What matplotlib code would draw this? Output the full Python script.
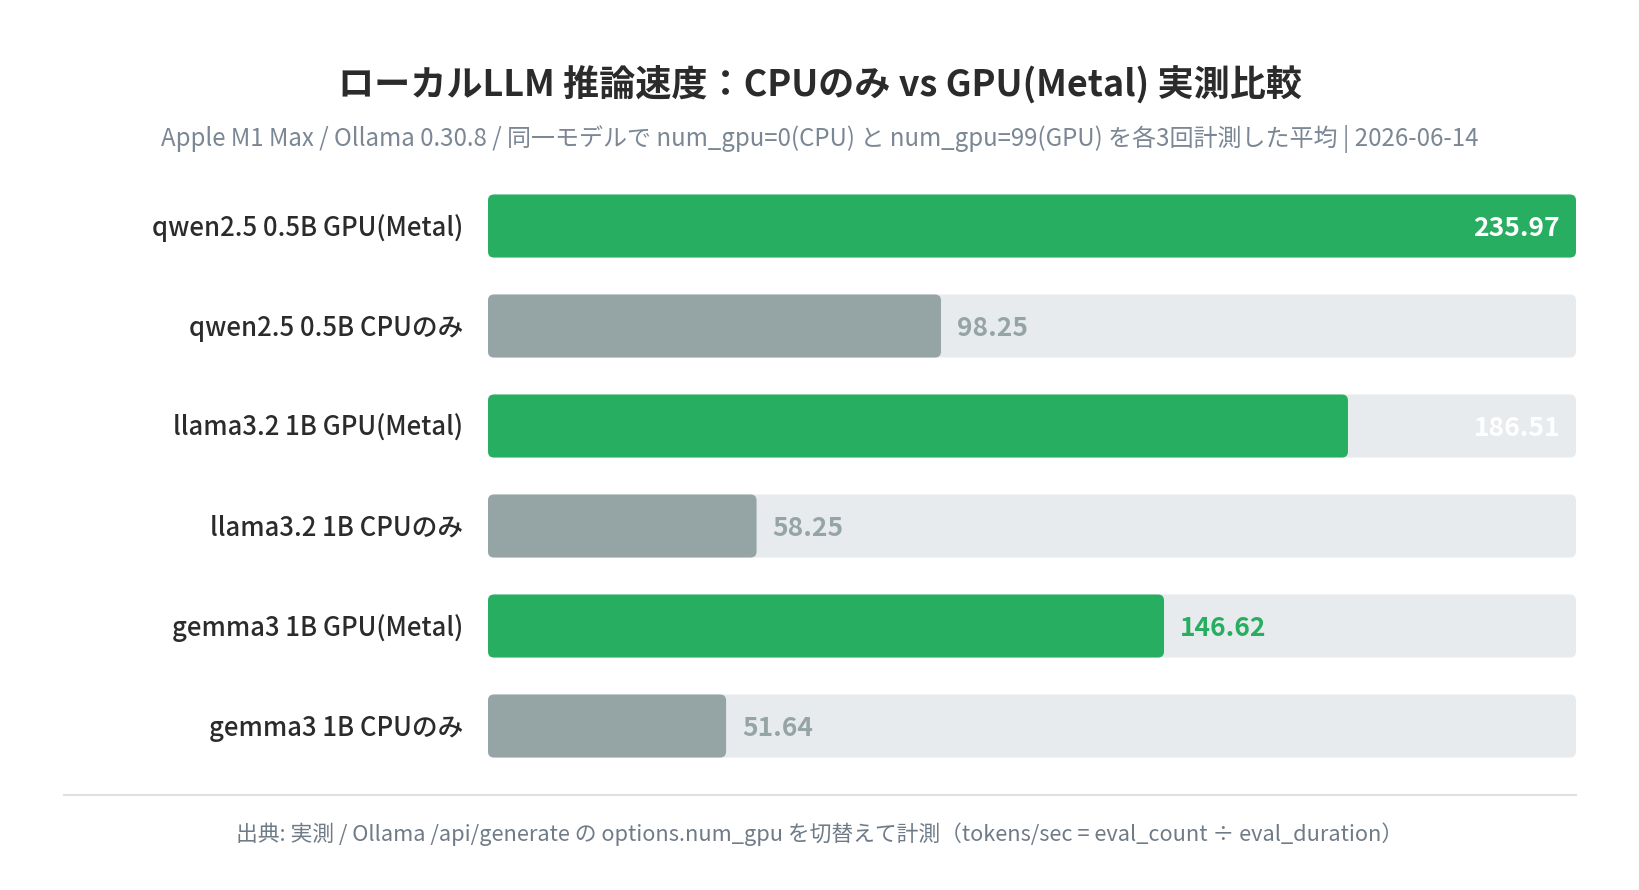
import matplotlib
matplotlib.use("Agg")
import matplotlib.pyplot as plt
from matplotlib.patches import FancyBboxPatch

plt.rcParams['font.family'] = ['Noto Sans CJK JP', 'DejaVu Sans']

categories = ["qwen2.5 0.5B GPU(Metal)", "qwen2.5 0.5B CPUのみ",
              "llama3.2 1B GPU(Metal)", "llama3.2 1B CPUのみ",
              "gemma3 1B GPU(Metal)", "gemma3 1B CPUのみ"]
values = [235.97, 98.25, 186.51, 58.25, 146.62, 51.64]
is_gpu = [True, False, True, False, True, False]

title = "ローカルLLM 推論速度：CPUのみ vs GPU(Metal) 実測比較"
subtitle = "Apple M1 Max / Ollama 0.30.8 / 同一モデルで num_gpu=0(CPU) と num_gpu=99(GPU) を各3回計測した平均 | 2026-06-14"
footer = "出典: 実測 / Ollama /api/generate の options.num_gpu を切替えて計測（tokens/sec = eval_count ÷ eval_duration）"

GREEN = "#27ae60"
GRAY = "#95a5a6"
TRACK = "#e8ebee"
DARK = "#2b2b2b"
SUB = "#7b8794"

W, H = 1640, 890
fig = plt.figure(figsize=(W / 100, H / 100), dpi=100)
fig.patch.set_facecolor("white")

ax_left, ax_right = 488, 1576
ax_top, ax_bot = 176, 776
ax = fig.add_axes([ax_left / W, 1 - ax_bot / H, (ax_right - ax_left) / W, (ax_bot - ax_top) / H])
xmax = max(values)
ax.set_xlim(0, xmax)
n = len(values)
ax.set_ylim(n - 0.5, -0.5)
ax.axis("off")

px_x = xmax / (ax_right - ax_left)
px_y = n / (ax_bot - ax_top)
bar_h = 0.63
r_px = 6
aspect = px_y / px_x
dy = 2 * px_y  # small optical offset for text baseline

for i, (v, g) in enumerate(zip(values, is_gpu)):
    track = FancyBboxPatch((0, i - bar_h / 2), xmax, bar_h,
                           boxstyle=f"round,pad=0,rounding_size={r_px * px_x}",
                           mutation_aspect=aspect, facecolor=TRACK, edgecolor="none", zorder=1)
    ax.add_patch(track)
    bar = FancyBboxPatch((0, i - bar_h / 2), v, bar_h,
                         boxstyle=f"round,pad=0,rounding_size={r_px * px_x}",
                         mutation_aspect=aspect, facecolor=GREEN if g else GRAY,
                         edgecolor="none", zorder=2)
    ax.add_patch(bar)
    ratio = v / xmax
    if g and ratio > 0.75:
        ax.text(xmax - 16 * px_x, i + dy, f"{v:.2f}", ha="right", va="center",
                fontsize=19, fontweight="bold", color="white", zorder=3)
    else:
        ax.text(v + 16 * px_x, i + dy, f"{v:.2f}", ha="left", va="center",
                fontsize=19, fontweight="bold", color=GREEN if g else GRAY, zorder=3)
    ax.text(-25 * px_x, i + dy, categories[i], ha="right", va="center",
            fontsize=18.5, fontweight="medium", color=DARK, clip_on=False)

fig.text(0.5, 1 - 84 / H, title, ha="center", va="center", fontsize=26,
         fontweight="bold", color=DARK)
fig.text(0.5, 1 - 139 / H, subtitle, ha="center", va="center", fontsize=17.3,
         color=SUB)

fig.add_artist(plt.Line2D([64 / W, 1576 / W], [1 - 795 / H, 1 - 795 / H],
                          color="#dde1e4", linewidth=1.5))
fig.text(0.5, 1 - 834 / H, footer, ha="center", va="center", fontsize=15.7,
         color="#6f7b87")

fig.savefig("out.png", dpi=100, facecolor="white")
